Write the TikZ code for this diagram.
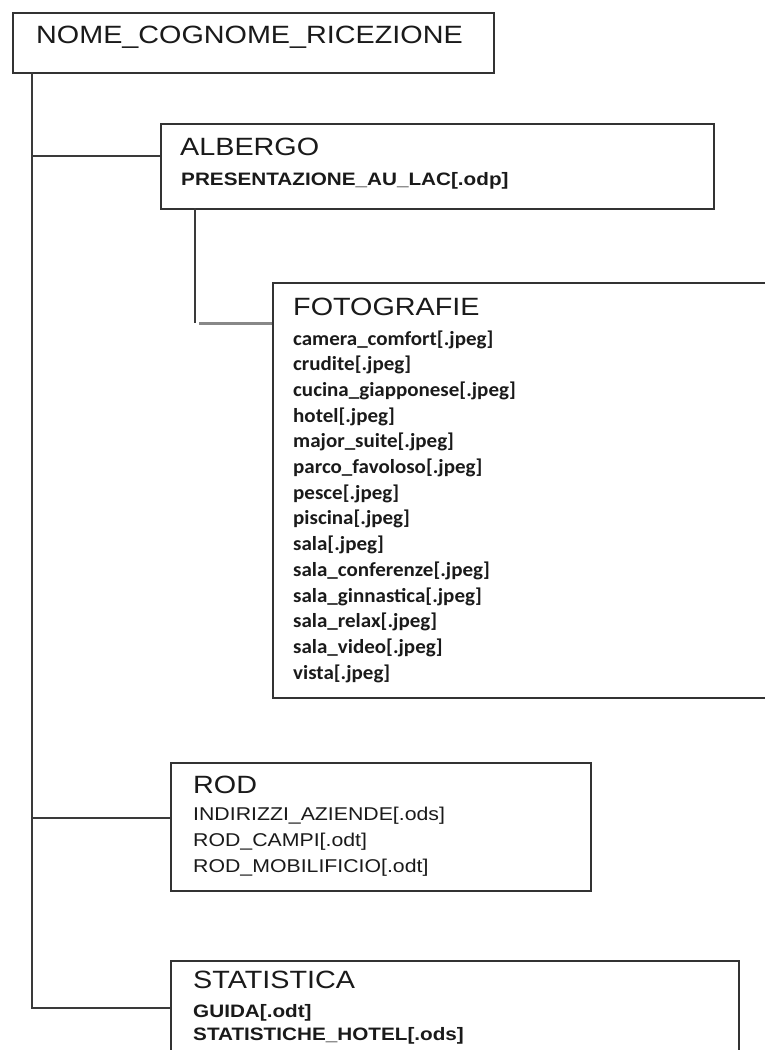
\documentclass[tikz,border=0pt]{standalone}
\usepackage{fontspec}
\setmainfont{Liberation Sans}[FakeStretch=1.15]
\newfontfamily\lstfont{Carlito}[FakeStretch=1.05]
\usetikzlibrary{calc}
\definecolor{boxline}{HTML}{333333}
\definecolor{connline}{HTML}{3A3A3A}
\definecolor{lightconn}{HTML}{888888}
\definecolor{txt}{HTML}{1A1A1A}
\tikzset{
  box/.style={draw=boxline, line width=2pt, fill=white, anchor=north west, inner sep=0pt},
  conn/.style={draw=connline, line width=2pt},
  softconn/.style={draw=lightconn, line width=3pt},
  lbl/.style={anchor=base west, inner sep=0pt, text=txt},
  ttl/.style={lbl, font=\fontsize{25}{30}\selectfont},
  sub/.style={lbl, font=\fontsize{18.5}{22}\selectfont},
  subb/.style={lbl, font=\fontsize{18}{22}\selectfont\bfseries},
  item/.style={lbl, font=\lstfont\fontsize{20}{24}\selectfont\bfseries},
}
\begin{document}
\begin{tikzpicture}[x=1pt, y=-1pt]
\useasboundingbox (0,0) rectangle (765,1050);
\clip (0,0) rectangle (765,1050);
\fill[white] (0,0) rectangle (765,1050);

% boxes
\node[box, minimum width=481pt, minimum height=60pt] (root) at (12,12) {};
\node[box, minimum width=553pt, minimum height=85pt] (alb) at (160,123) {};
\node[box, minimum width=520pt, minimum height=415pt] (foto) at (272,282) {};
\node[box, minimum width=420pt, minimum height=128pt] (rod) at (170,762) {};
\node[box, minimum width=568pt, minimum height=120pt] (stat) at (170,960) {};

% junction coordinates
\coordinate (trunktop) at (32,72);
\coordinate (jA) at (32,156);
\coordinate (jR) at (32,818);
\coordinate (jS) at (32,1008);
\coordinate (aB) at (195,208);
\coordinate (aC) at (195,323);
\coordinate (aD) at (199,323);

% connectors
\draw[conn] (trunktop) -- (jS) -- (jS -| stat.west);
\draw[conn] (jA) -- (jA -| alb.west);
\draw[conn] (jR) -- (jR -| rod.west);
\draw[conn] (aB) -- (aC);
\draw[softconn] (aD) -- (aD -| foto.west);

% texts
\node[ttl] (tRoot) at (36,43) {NOME\_COGNOME\_RICEZIONE};

\node[ttl] (tAlb) at (180,155) {ALBERGO};
\node[subb] (tPres) at (181,185) {PRESENTAZIONE\_AU\_LAC[.odp]};

\node[ttl] (tFoto) at (293,315) {FOTOGRAFIE};
\node[item] (f1) at (293,345.0) {camera\_comfort[.jpeg]};
\node[item] (f2) at (293,370.7) {crudite[.jpeg]};
\node[item] (f3) at (293,396.4) {cucina\_giapponese[.jpeg]};
\node[item] (f4) at (293,422.1) {hotel[.jpeg]};
\node[item] (f5) at (293,447.8) {major\_suite[.jpeg]};
\node[item] (f6) at (293,473.5) {parco\_favoloso[.jpeg]};
\node[item] (f7) at (293,499.2) {pesce[.jpeg]};
\node[item] (f8) at (293,524.9) {piscina[.jpeg]};
\node[item] (f9) at (293,550.6) {sala[.jpeg]};
\node[item] (f10) at (293,576.3) {sala\_conferenze[.jpeg]};
\node[item] (f11) at (293,602.0) {sala\_ginnastica[.jpeg]};
\node[item] (f12) at (293,627.7) {sala\_relax[.jpeg]};
\node[item] (f13) at (293,653.4) {sala\_video[.jpeg]};
\node[item] (f14) at (293,679.1) {vista[.jpeg]};

\node[ttl] (tRod) at (193,793) {ROD};
\node[sub] (r1) at (193,820) {INDIRIZZI\_AZIENDE[.ods]};
\node[sub] (r2) at (193,846) {ROD\_CAMPI[.odt]};
\node[sub] (r3) at (193,872) {ROD\_MOBILIFICIO[.odt]};

\node[ttl] (tStat) at (193,988) {STATISTICA};
\node[subb] (s1) at (193,1017) {GUIDA[.odt]};
\node[subb] (s2) at (193,1040) {STATISTICHE\_HOTEL[.ods]};
\end{tikzpicture}
\end{document}
